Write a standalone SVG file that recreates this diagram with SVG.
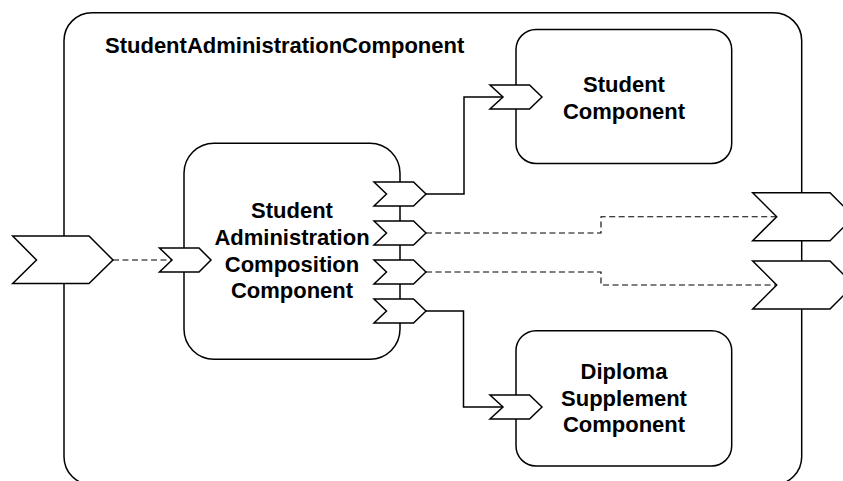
<svg xmlns="http://www.w3.org/2000/svg" width="843" height="481" viewBox="0 0 843 481">
<style>
.box{fill:#fff;stroke:#000;stroke-width:1.5}
.port{fill:#fff;stroke:#000;stroke-width:1.5;stroke-linejoin:miter}
.lbl{font-family:"Liberation Sans",Arial,Helvetica,sans-serif;font-weight:bold;font-size:22px;fill:#000}
.c{text-anchor:middle}
.solid{fill:none;stroke:#000;stroke-width:1.5}
.dash{fill:none;stroke:#000;stroke-width:1.1;stroke-dasharray:6 3.5}
</style>
<rect width="843" height="481" fill="#fff"/>
<g id="outer">
<rect class="box" x="64" y="12.7" width="737.7" height="472" rx="28" ry="28"/>
<text class="lbl" x="105" y="53">StudentAdministrationComponent</text>
</g>
<g id="student">
<rect class="box" x="516" y="29.5" width="215.7" height="134" rx="20" ry="20"/>
<text class="lbl c" x="624" y="91.5">Student</text>
<text class="lbl c" x="624" y="119">Component</text>
</g>
<g id="diploma">
<rect class="box" x="516" y="330.7" width="215.7" height="135.3" rx="20" ry="20"/>
<text class="lbl c" x="624" y="379">Diploma</text>
<text class="lbl c" x="624" y="405.5">Supplement</text>
<text class="lbl c" x="624" y="432">Component</text>
</g>
<g id="composition">
<rect class="box" x="184" y="143.3" width="216" height="216" rx="30" ry="30"/>
<text class="lbl c" x="292" y="218">Student</text>
<text class="lbl c" x="292" y="245">Administration</text>
<text class="lbl c" x="292" y="271.7">Composition</text>
<text class="lbl c" x="292" y="298">Component</text>
</g>
<g id="connectors">
<path class="dash" d="M113 260H172"/>
<path class="solid" d="M426 194H464V97H503"/>
<path class="dash" d="M426 233H601V216.7H777"/>
<path class="dash" d="M426 272H601V285H777"/>
<path class="solid" d="M426 311H463.5V407H503"/>
</g>
<g id="port-in-outer">
<path class="port" d="M12.7 236H89L113 260L89 283.5H12.7L36.5 260Z"/>
</g>
<g id="port-in-composition">
<path class="port" d="M159.5 248H199L211 260L199 272H159.5L172 260Z"/>
</g>
<g id="port-out-1">
<path class="port" d="M374 182H413.5L426 194L413.5 206H374L386.5 194Z"/>
</g>
<g id="port-out-2">
<path class="port" d="M374 221H413.5L426 233L413.5 245H374L386.5 233Z"/>
</g>
<g id="port-out-3">
<path class="port" d="M374 260H413.5L426 272L413.5 284H374L386.5 272Z"/>
</g>
<g id="port-out-4">
<path class="port" d="M374 299H413.5L426 311L413.5 323H374L386.5 311Z"/>
</g>
<g id="port-in-student">
<path class="port" d="M490 85H529.5L542 97L529.5 109H490L503 97Z"/>
</g>
<g id="port-in-diploma">
<path class="port" d="M490 395H529.5L542 407L529.5 419H490L503 407Z"/>
</g>
<g id="port-out-outer-1">
<path class="port" d="M752.7 192.7H830L854 216.7L830 240.7H752.7L776.7 216.7Z"/>
</g>
<g id="port-out-outer-2">
<path class="port" d="M752.7 261H830L854 285L830 309H752.7L776.7 285Z"/>
</g>
</svg>
